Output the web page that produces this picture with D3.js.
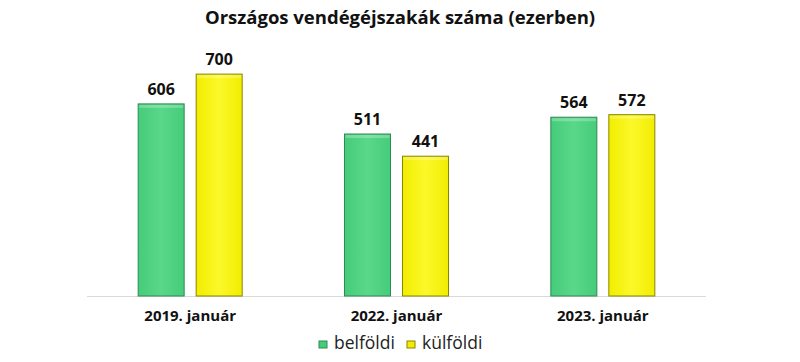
<!DOCTYPE html>
<html>
<head>
<meta charset="utf-8">
<script src="https://cdn.jsdelivr.net/npm/d3@7"></script>
<style>
  body { margin: 0; background: #fff; }
  text { font-family: "Open Sans", "Noto Sans", sans-serif; }
</style>
</head>
<body>
<div id="chart"></div>
<script>
var categories = ["2019. január", "2022. január", "2023. január"];
var series = ["belföldi", "külföldi"];
var belfoldi = [606, 511, 564];
var kulfoldi = [700, 441, 572];
var colors = {"belföldi": ["#5ad78a", "#45cc7a", "#2d8a51"], "külföldi": ["#fbf82a", "#f2ed00", "#8a8500"]};

var W = 800, H = 362;
var svg = d3.select("#chart").append("svg")
  .attr("width", W).attr("height", H);

var defs = svg.append("defs");
series.forEach(function(s, i) {
  var g = defs.append("linearGradient").attr("id", "grad" + i)
    .attr("x1", 0).attr("x2", 1).attr("y1", 0).attr("y2", 0);
  g.append("stop").attr("offset", "0%").attr("stop-color", colors[s][1]);
  g.append("stop").attr("offset", "50%").attr("stop-color", colors[s][0]);
  g.append("stop").attr("offset", "100%").attr("stop-color", colors[s][1]);
});

var data = categories.map(function(c, i) {
  return {cat: c, values: [{key: series[0], v: belfoldi[i]}, {key: series[1], v: kulfoldi[i]}]};
});

var x0 = d3.scaleBand().domain(categories).range([87, 706]);
var x1 = d3.scaleBand().domain(series).range([0, 104]).paddingInner(0.207);
var y = d3.scaleLinear().domain([0, 800]).range([296, 42.4]);

// title
svg.append("text")
  .attr("x", 400).attr("y", 24)
  .attr("text-anchor", "middle")
  .style("font-size", "18.5px").style("font-weight", "bold").style("fill", "#111")
  .text("Országos vendégéjszakák száma (ezerben)");

// axis line
svg.append("line")
  .attr("x1", x0.range()[0]).attr("x2", x0.range()[1])
  .attr("y1", y(0) + 0.5).attr("y2", y(0) + 0.5)
  .attr("stroke", "#d9d9d9");

var groups = svg.selectAll(".grp").data(data).enter().append("g")
  .attr("class", "grp")
  .attr("transform", function(d) {
    return "translate(" + (x0(d.cat) + x0.bandwidth() / 2 - 52) + ",0)";
  });

groups.selectAll("rect.bar").data(function(d) { return d.values; }).enter()
  .append("rect").attr("class", "bar")
  .attr("x", function(d) { return x1(d.key); })
  .attr("y", function(d) { return y(d.v); })
  .attr("width", x1.bandwidth())
  .attr("height", function(d) { return y(0) - y(d.v); })
  .attr("fill", function(d) { return "url(#grad" + series.indexOf(d.key) + ")"; })
  .attr("stroke", function(d) { return colors[d.key][2]; })
  .attr("stroke-width", 1);

// bevel highlight on top
groups.selectAll("rect.hl").data(function(d) { return d.values; }).enter()
  .append("rect").attr("class", "hl")
  .attr("x", function(d) { return x1(d.key) + 1; })
  .attr("y", function(d) { return y(d.v) + 1; })
  .attr("width", x1.bandwidth() - 2)
  .attr("height", 3)
  .attr("fill", "#fff").attr("opacity", 0.25);

groups.selectAll("text.val").data(function(d) { return d.values; }).enter()
  .append("text").attr("class", "val")
  .attr("x", function(d) { return x1(d.key) + x1.bandwidth() / 2; })
  .attr("y", function(d) { return y(d.v) - 9; })
  .attr("text-anchor", "middle")
  .style("font-size", "16px").style("font-weight", "bold").style("fill", "#111")
  .text(function(d) { return d.v; });

// category labels
var xAxis = svg.append("g")
  .attr("transform", "translate(0," + y(0) + ")")
  .call(d3.axisBottom(x0).tickSize(0).tickPadding(14));
xAxis.select(".domain").remove();
xAxis.selectAll("text")
  .style("font-size", "15px").style("font-weight", "bold").style("fill", "#111")
  .style("font-family", "'Open Sans', 'Noto Sans', sans-serif");

// legend
var legend = svg.append("g").attr("transform", "translate(0,349)");
var legX = [319, 407];
series.forEach(function(s, i) {
  legend.append("rect")
    .attr("x", legX[i]).attr("y", -8).attr("width", 8).attr("height", 7)
    .attr("fill", colors[s][1]).attr("stroke", colors[s][2]);
  legend.append("text")
    .attr("x", legX[i] + 15).attr("y", 0)
    .style("font-size", "17.5px").style("fill", "#222")
    .text(s);
});
</script>
</body>
</html>
